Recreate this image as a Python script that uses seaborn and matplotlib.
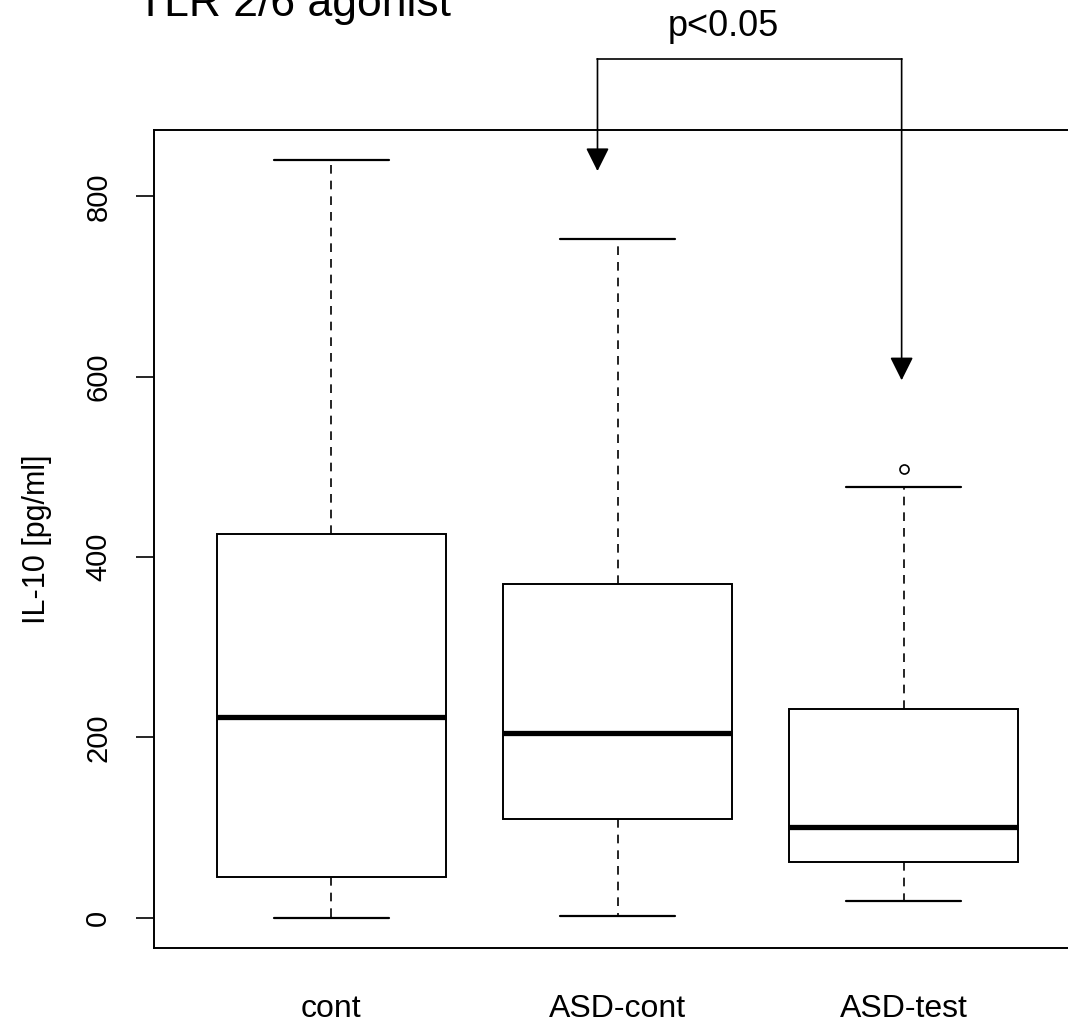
import numpy as np
import pandas as pd
import matplotlib as mpl
import matplotlib.pyplot as plt
import seaborn as sns

sns.set_style("white")
plt.rcParams['font.family'] = ['Liberation Sans', 'DejaVu Sans']
plt.rcParams['text.color'] = 'black'
plt.rcParams['xtick.color'] = 'black'
plt.rcParams['ytick.color'] = 'black'

# five-number summaries (min, Q1, median, Q3, max)
groups = ["cont", "ASD-cont", "ASD-test"]
cont = [0, 45.5, 223, 426, 840]
asd_cont = [2, 110, 205, 370, 753]
asd_test = [19, 62, 101, 231, 478]
asd_test_outliers = [498]

df = pd.DataFrame({
    'group': np.repeat(groups, 5),
    'IL-10': cont + asd_cont + asd_test,
})

fig = plt.figure(figsize=(10.68, 10.29), dpi=100)
ax = fig.add_axes([0.1442, 0.0787, 0.868, 0.795])

lw = 1.4
sns.boxplot(data=df, x='group', y='IL-10', order=groups, ax=ax,
            color='white', linecolor='black', linewidth=lw, width=0.8,
            whis=np.inf, fliersize=0,
            medianprops=dict(linewidth=3.8, color='black'),
            whiskerprops=dict(linestyle=(0, (5.2, 4.2)), linewidth=1.2),
            capprops=dict(linewidth=1.6))

# outlier point of ASD-test
ax.plot([2] * len(asd_test_outliers), asd_test_outliers, 'o', ms=6.5,
        mfc='white', mec='black', mew=1.2)

ax.set_xlim(-0.62, 2.62)
ax.set_ylim(-33.6, 873.6)
ax.set_yticks([0, 200, 400, 600, 800])
ax.set_xlabel('')
ax.set_ylabel('')

for s in ax.spines.values():
    s.set_color('black')
    s.set_linewidth(lw)

ax.tick_params(axis='x', direction='out', length=14, width=1.2,
               pad=19, labelsize=23)
ax.tick_params(axis='y', direction='out', length=13, width=1.2,
               pad=17, labelsize=21, labelrotation=90, left=True)
for t in ax.get_yticklabels():
    t.set_va('center')

fig.text(37 / 1068, 0.476, 'IL-10 [pg/ml]', rotation=90, ha='center',
         va='center', fontsize=22)

# significance bracket
x1, x2, ytop = 0.93, 1.993, 952
ax.plot([x1, x2], [ytop, ytop], color='black', lw=1.2, clip_on=False)
for xx, tip in [(x1, 828), (x2, 596)]:
    ax.annotate('', xy=(xx, tip), xytext=(xx, ytop + 0.5),
                arrowprops=dict(arrowstyle='-|>,head_length=0.8,head_width=0.4',
                                mutation_scale=18, lw=1.2, color='black',
                                shrinkA=0, shrinkB=0),
                annotation_clip=False)

fig.text(0.677, 1 - 36 / 1029, 'p<0.05', ha='center', va='baseline', fontsize=26)
fig.text(137 / 1068, 1 - 16 / 1029, 'TLR 2/6 agonist', ha='left', va='baseline',
         fontsize=32)

fig.savefig('out.png', dpi=100)
